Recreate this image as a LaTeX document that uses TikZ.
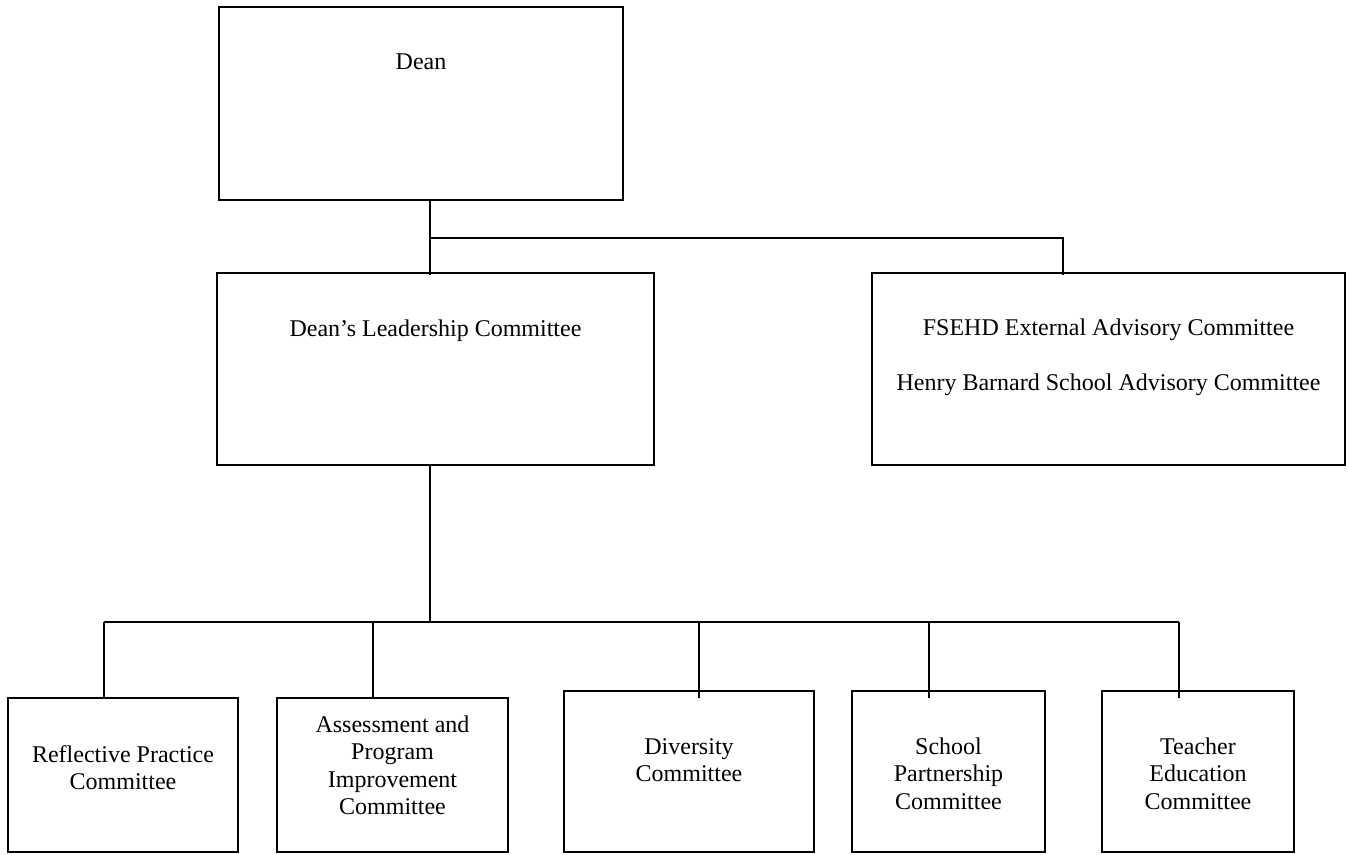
\documentclass[tikz,border=0pt]{standalone}
\usepackage{fontspec}
\setmainfont{Liberation Serif}
\usetikzlibrary{calc}
\begin{document}
\begin{tikzpicture}[x=1pt,y=-1pt,
  box/.style={draw, rectangle, line width=1.8pt, inner sep=0pt},
  link/.style={draw, line width=1.6pt},
  lbl/.style={anchor=base, inner sep=0pt, font=\fontsize{24}{27.6}\selectfont}]
\useasboundingbox (0,0) rectangle (1349,854);

% boxes
\node[box, minimum width=404pt, minimum height=193pt] (dean)   at (421,103.5) {};
\node[box, minimum width=437pt, minimum height=192pt] (dlc)    at (435.5,369) {};
\node[box, minimum width=473pt, minimum height=192pt] (fsehd)  at (1108.5,369) {};
\node[box, minimum width=230pt, minimum height=154pt] (refl)   at (123,775) {};
\node[box, minimum width=231pt, minimum height=154pt] (assess) at (392.5,775) {};
\node[box, minimum width=250pt, minimum height=161pt] (div)    at (689,771.5) {};
\node[box, minimum width=193pt, minimum height=161pt] (school) at (948.5,771.5) {};
\node[box, minimum width=192pt, minimum height=161pt] (teach)  at (1198,771.5) {};

% labels (positioned at the baseline of the first line)
\node[lbl] (tdean)   at (421,69) {Dean};
\node[lbl] (tdlc)    at (435.5,336) {Dean’s Leadership Committee};
\node[lbl] (tfsehd)  at (1108.5,335) {\begin{tabular}[t]{@{}c@{}}FSEHD External Advisory Committee\\[27.6pt] Henry Barnard School Advisory Committee\end{tabular}};
\node[lbl] (trefl)   at (123,762) {\begin{tabular}[t]{@{}c@{}}Reflective Practice\\ Committee\end{tabular}};
\node[lbl] (tassess) at (392.5,732) {\begin{tabular}[t]{@{}c@{}}Assessment and\\ Program\\ Improvement\\ Committee\end{tabular}};
\node[lbl] (tdiv)    at (689,754) {\begin{tabular}[t]{@{}c@{}}Diversity\\ Committee\end{tabular}};
\node[lbl] (tschool) at (948.5,754) {\begin{tabular}[t]{@{}c@{}}School\\ Partnership\\ Committee\end{tabular}};
\node[lbl] (tteach)  at (1198,754) {\begin{tabular}[t]{@{}c@{}}Teacher\\ Education\\ Committee\end{tabular}};

% junction points of the connectors
\coordinate (j1)  at (430,238);
\coordinate (j1r) at (1063,238);
\coordinate (j2)  at (430,622);
\coordinate (c1)  at (104,622);
\coordinate (c2)  at (373,622);
\coordinate (c3)  at (699,622);
\coordinate (c4)  at (929,622);
\coordinate (c5)  at (1179,622);

% connectors
\draw[link] (j1 |- dean.south) -- ($(j1 |- dlc.north)+(0,3)$);
\draw[link] (j1) -- (j1r) -- ($(j1r |- fsehd.north)+(0,3)$);
\draw[link] (j2 |- dlc.south) -- (j2);
\draw[link] (c1) -- (c5);
\draw[link] (c1) -- (c1 |- refl.north);
\draw[link] (c2) -- (c2 |- assess.north);
\draw[link] (c3) -- ($(c3 |- div.north)+(0,8)$);
\draw[link] (c4) -- ($(c4 |- school.north)+(0,8)$);
\draw[link] (c5) -- ($(c5 |- teach.north)+(0,8)$);
\end{tikzpicture}
\end{document}
